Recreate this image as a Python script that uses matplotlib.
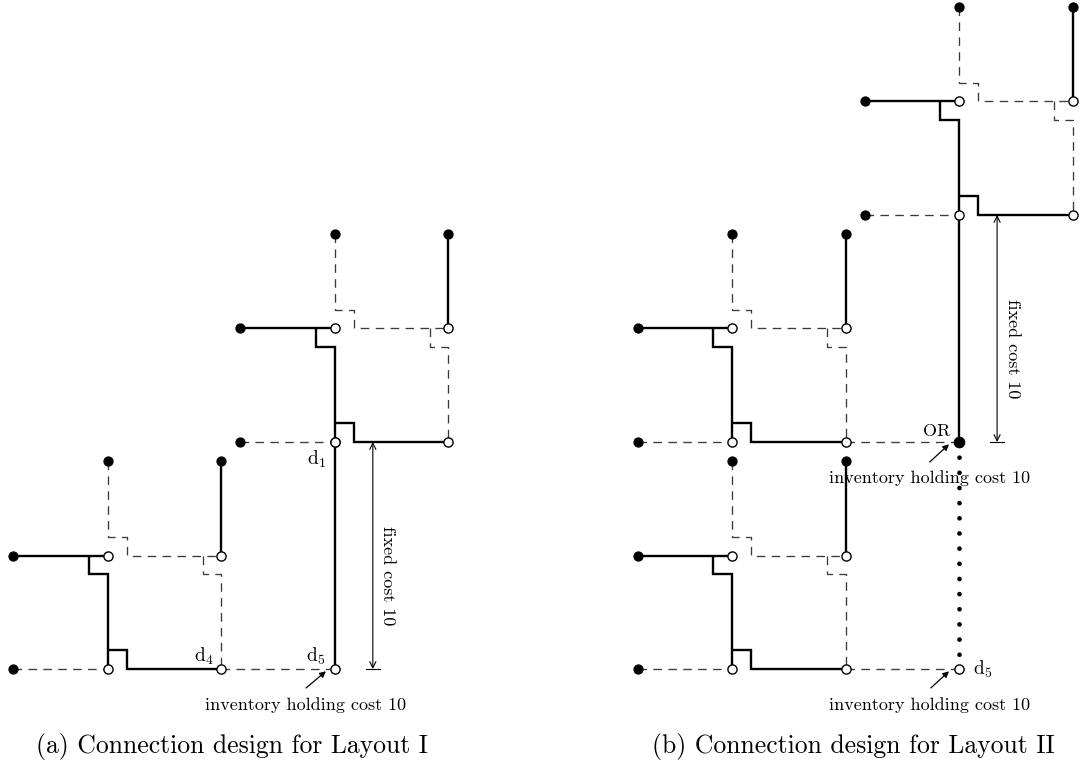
import matplotlib
matplotlib.use("Agg")
import matplotlib.pyplot as plt

plt.rcParams['font.family'] = ['cmr10', 'DejaVu Serif']
plt.rcParams['mathtext.fontset'] = 'cm'
plt.rcParams['axes.unicode_minus'] = False

# ---------------- data (grid units, one unit = one module side) ----------------
JOG = 1 / 6          # size of the little crossing jog
ARM = 5 / 6          # length of the feeder arms to the filled terminals

# module origins (bottom-left open node) for each layout
layout_I_x = [0.0, 2.0]
layout_I_y = [0.0, 2.0]
layout_II_x = [5.5, 5.5, 7.5]
layout_II_y = [0.0, 2.0, 4.0]

captions = ["(a) Connection design for Layout I", "(b) Connection design for Layout II"]
caption_x = [1.09, 6.57]
cost_label = "fixed cost 10"
hold_label = "inventory holding cost 10"

SMALL = 13
CAP = 18.5

# ---------------- figure ----------------
PX = 113.5
fig = plt.figure(figsize=(10.8, 7.72), dpi=100)
ax = fig.add_axes([0, 0, 1, 1])
ax.set_xlim(-108 / PX, (1080 - 108) / PX)
ax.set_ylim((669 - 772) / PX, 669 / PX)
ax.axis('off')

SOLID = dict(color='black', lw=1.7, solid_capstyle='butt', solid_joinstyle='miter', zorder=2)
DASH = dict(color='#3a3a3a', lw=0.95, linestyle=(0, (6.5, 4.8)), zorder=1)


def solid(xs, ys):
    ax.plot(xs, ys, **SOLID)


def dashed(xs, ys):
    ax.plot(xs, ys, **DASH)


def open_nodes(xs, ys):
    ax.plot(xs, ys, 'o', ms=6.6, mfc='white', mec='black', mew=1.0, ls='none', zorder=4)


def filled_nodes(xs, ys, ms=6.4):
    ax.plot(xs, ys, 'o', ms=ms, mfc='black', mec='black', ls='none', zorder=4)


def module(ox, oy):
    s, j, a = 1.0, JOG, ARM
    dashed([ox - a, ox], [oy, oy])
    solid([ox - a, ox], [oy + s, oy + s])
    dashed([ox, ox, ox + j, ox + j, ox + s], [oy + s + a, oy + s + j, oy + s + j, oy + s, oy + s])
    dashed([ox + s - j, ox + s - j, ox + s, ox + s], [oy + s, oy + s - j, oy + s - j, oy])
    solid([ox + s, ox + s], [oy + s + a, oy + s])
    solid([ox - j, ox - j, ox, ox], [oy + s, oy + s - j, oy + s - j, oy])
    solid([ox, ox + j, ox + j, ox + s], [oy + j, oy + j, oy, oy])
    open_nodes([ox, ox + s, ox, ox + s], [oy, oy, oy + s, oy + s])
    filled_nodes([ox - a, ox - a, ox, ox + s], [oy, oy + s, oy + s + a, oy + s + a])


for x0, y0 in zip(layout_I_x, layout_I_y):
    module(x0, y0)
for x0, y0 in zip(layout_II_x, layout_II_y):
    module(x0, y0)

# ---- Layout I connections ----
ax0x, ax0y = layout_I_x[0], layout_I_y[0]
ax1x, ax1y = layout_I_x[1], layout_I_y[1]
dashed([ax0x + 1, ax1x], [ax0y, ax0y])
solid([ax1x, ax1x], [ax1y, ax0y])
open_nodes([ax1x, ax1x], [ax0y, ax1y])

ax.text(ax1x - 0.16, ax1y - 0.15, r'$\mathrm{d}_1$', fontsize=14, ha='center', va='center')
ax.text(ax0x + 1 - 0.15, ax0y + 0.115, r'$\mathrm{d}_4$', fontsize=14, ha='center', va='center')
ax.text(ax1x - 0.165, ax0y + 0.115, r'$\mathrm{d}_5$', fontsize=14, ha='center', va='center')

ARROW = dict(arrowstyle='-|>', lw=0.9, color='black', mutation_scale=9, shrinkA=0, shrinkB=0)
ax.annotate('', xy=(ax1x - 0.08, ax0y - 0.02), xytext=(ax1x - 0.255, ax0y - 0.167), arrowprops=ARROW)
ax.text(ax1x - 0.255, ax0y - 0.317, hold_label, fontsize=SMALL, ha='center', va='center')

DIM = dict(arrowstyle='<->', lw=0.8, color='black', mutation_scale=11, shrinkA=0, shrinkB=0)
dx = ax1x + 1 / 3
ax.annotate('', xy=(dx, ax1y), xytext=(dx, ax0y), arrowprops=DIM)
ax.plot([dx - 0.06, dx + 0.06], [ax0y, ax0y], color='black', lw=0.8)
ax.text(dx + 0.135, (ax0y + ax1y) / 2 - 0.18, cost_label, fontsize=SMALL, rotation=-90,
        ha='center', va='center')

# ---- Layout II connections ----
b0x, b0y = layout_II_x[0], layout_II_y[0]
b1x, b1y = layout_II_x[1], layout_II_y[1]
b2x, b2y = layout_II_x[2], layout_II_y[2]
dashed([b1x + 1, b2x], [b1y, b1y])
dashed([b0x + 1, b2x], [b0y, b0y])
solid([b2x, b2x], [b2y, b1y])
ax.plot([b2x, b2x], [b1y, b0y], color='black', lw=3.4, linestyle=(0, (0.01, 3.2)),
        dash_capstyle='round', zorder=3)
filled_nodes([b2x], [b1y], ms=7.4)
open_nodes([b2x], [b0y])

ax.text(b2x + 0.12, b0y - 0.005, r'$\mathrm{d}_5$', fontsize=14, ha='left', va='center')
ax.text(b2x - 0.2, b1y + 0.09, 'OR', fontsize=13, ha='center', va='center')
ax.annotate('', xy=(b2x - 0.09, b1y - 0.02), xytext=(b2x - 0.26, b1y - 0.176), arrowprops=ARROW)
ax.text(b2x - 0.26, b1y - 0.32, hold_label, fontsize=SMALL, ha='center', va='center')
ax.annotate('', xy=(b2x - 0.09, b0y - 0.02), xytext=(b2x - 0.25, b0y - 0.167), arrowprops=ARROW)
ax.text(b2x - 0.26, b0y - 0.317, hold_label, fontsize=SMALL, ha='center', va='center')

dx = b2x + 1 / 3
ax.annotate('', xy=(dx, b2y), xytext=(dx, b1y), arrowprops=DIM)
ax.plot([dx - 0.06, dx + 0.06], [b1y, b1y], color='black', lw=0.8)
ax.text(dx + 0.135, (b1y + b2y) / 2 - 0.18, cost_label, fontsize=SMALL, rotation=-90,
        ha='center', va='center')

# ---- captions ----
for cx, cap in zip(caption_x, captions):
    ax.text(cx, -0.685, cap, fontsize=CAP, ha='center', va='center')

fig.savefig('out.png', dpi=100)
